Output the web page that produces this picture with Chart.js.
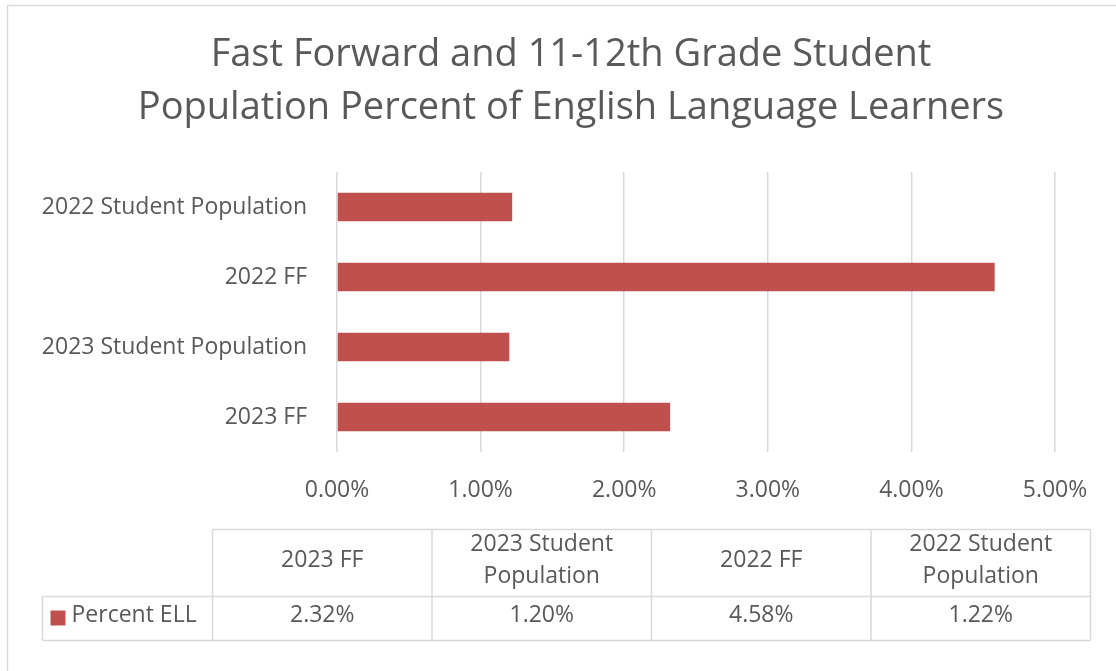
<!DOCTYPE html>
<html>
<head>
<meta charset="utf-8">
<script src="https://cdn.jsdelivr.net/npm/chart.js@4.4.1/dist/chart.umd.min.js"></script>
<style>
html, body { margin: 0; padding: 0; background: #fff; }
</style>
</head>
<body>
<canvas id="myChart" width="1116" height="671"></canvas>
<script>
// data - Excel order, first category ends up at the bottom of the bar chart
const categories = ['2023 FF', '2023 Student Population', '2022 FF', '2022 Student Population'];
const seriesName = 'Percent ELL';
const percentEll = [2.32, 1.20, 4.58, 1.22];
const xTicks = [0, 1, 2, 3, 4, 5];
const titleLines = ['Fast Forward and 11-12th Grade Student', 'Population Percent of English Language Learners'];

const textColor = '#595959';
const lineColor = '#d9d9d9';
const barColor = '#c0504d';
const fontFamily = '"Open Sans", Lato, sans-serif';
const smallSize = 23;

function pct(v) {
    return v.toFixed(2) + '%';
}

// split a label into lines that fit a cell
function wrap(ctx, text, maxW) {
    const words = text.split(' ');
    const lines = [];
    let line = '';
    words.forEach(w => {
        const test = line ? line + ' ' + w : w;
        if (ctx.measureText(test).width > maxW && line) {
            lines.push(line);
            line = w;
        } else {
            line = test;
        }
    });
    lines.push(line);
    return lines;
}

// white background, frame, title and the data table under the axis
const frameAndTable = {
    id: 'frameAndTable',
    beforeDraw(chart) {
        const ctx = chart.ctx;
        ctx.save();
        ctx.fillStyle = '#fff';
        ctx.fillRect(0, 0, chart.width, chart.height);
        ctx.strokeStyle = lineColor;
        ctx.lineWidth = 1.5;
        ctx.strokeRect(7.5, 5.5, chart.width + 20, chart.height + 20);

        // title, centred over the whole chart box
        ctx.fillStyle = textColor;
        ctx.font = '38px ' + fontFamily;
        ctx.textAlign = 'center';
        ctx.textBaseline = 'middle';
        titleLines.forEach((t, i) => ctx.fillText(t, 571, 55 + i * 53));
        ctx.restore();
    },
    afterDraw(chart) {
        const ctx = chart.ctx;
        const area = chart.chartArea;
        const left = 212.5, right = area.right + 35.5, legendLeft = 42.5;
        const top = area.bottom + 77.5, mid = top + 67, bottom = mid + 44;
        const colW = (right - left) / categories.length;

        ctx.save();
        ctx.strokeStyle = lineColor;
        ctx.lineWidth = 1.5;
        ctx.beginPath();
        ctx.moveTo(left, top); ctx.lineTo(right, top);
        ctx.moveTo(legendLeft, mid); ctx.lineTo(right, mid);
        ctx.moveTo(legendLeft, bottom); ctx.lineTo(right, bottom);
        ctx.moveTo(legendLeft, mid); ctx.lineTo(legendLeft, bottom);
        for (let i = 0; i <= categories.length; i++) {
            const x = left + i * colW;
            ctx.moveTo(x, top); ctx.lineTo(x, bottom);
        }
        ctx.stroke();

        ctx.fillStyle = textColor;
        ctx.font = smallSize + 'px ' + fontFamily;
        ctx.textAlign = 'center';
        ctx.textBaseline = 'middle';
        const lh = 32;
        categories.forEach((c, i) => {
            const cx = left + (i + 0.5) * colW;
            const lines = wrap(ctx, c, colW - 20);
            const y0 = (top + mid) / 2 - 3 - (lines.length - 1) * lh / 2;
            lines.forEach((l, j) => ctx.fillText(l, cx, y0 + j * lh));
            ctx.fillText(pct(percentEll[i]), cx, (mid + bottom) / 2 - 3);
        });

        // legend key in the first cell
        ctx.fillStyle = barColor;
        ctx.fillRect(legendLeft + 8, (mid + bottom) / 2 - 8, 15, 15);
        ctx.fillStyle = textColor;
        ctx.textAlign = 'left';
        ctx.fillText(seriesName, legendLeft + 29, (mid + bottom) / 2 - 3);
        ctx.restore();
    }
};

const myChart = new Chart(document.getElementById('myChart'), {
    type: 'bar',
    data: {
        labels: categories,
        datasets: [{
            label: seriesName,
            data: percentEll,
            backgroundColor: barColor,
            borderWidth: 0,
            categoryPercentage: 1,
            barPercentage: 0.41
        }]
    },
    options: {
        indexAxis: 'y', //horizontal bars
        responsive: false,
        animation: false,
        layout: {
            padding: { left: 15, right: 61, top: 172, bottom: 0 }
        },
        plugins: {
            legend: { display: false },
            tooltip: { enabled: false },
            title: { display: false }
        },
        scales: {
            x: {
                min: 0,
                max: 5,
                afterBuildTicks: s => { s.ticks = xTicks.map(v => ({ value: v })); },
                ticks: {
                    callback: v => pct(v),
                    color: textColor,
                    font: { family: fontFamily, size: smallSize },
                    padding: 25
                },
                grid: { color: lineColor, lineWidth: 1.5, drawTicks: false },
                border: { display: false },
                afterFit: s => { s.height = 219; }
            },
            y: {
                reverse: true,
                ticks: {
                    color: textColor,
                    font: { family: fontFamily, size: smallSize },
                    padding: 22
                },
                grid: { display: false },
                border: { display: false },
                afterFit: s => { s.width = 322; }
            }
        }
    },
    plugins: [frameAndTable]
});
</script>
</body>
</html>
